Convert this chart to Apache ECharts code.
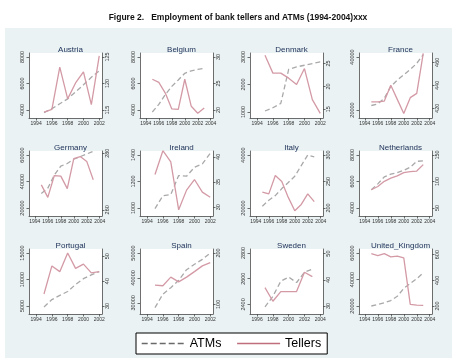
<!DOCTYPE html>
<html>
<head>
<meta charset="utf-8">
<script src="https://cdn.jsdelivr.net/npm/echarts@6/dist/echarts.min.js"></script>
<style>
  html, body { margin: 0; padding: 0; background: #ffffff; }
  #chart { width: 457px; height: 362px; }
</style>
</head>
<body>
<div id="chart"></div>
<script>
// ---- Data: ATMs (left axis) and bank tellers (right axis, thousands) ----
const countries = ['Austria', 'Belgium', 'Denmark', 'France', 'Germany', 'Ireland',
                   'Italy', 'Netherlands', 'Portugal', 'Spain', 'Sweden', 'United_Kingdom'];

const austriaYears   = [1995, 1996, 1997, 1998, 1999, 2000, 2001, 2002];
const austriaATMs    = [3800, 4100, 4470, 4840, 5360, 5900, 6470, 6960];
const austriaTellers = [114.6, 115.1, 123.1, 117.1, 120.1, 122.2, 116.0, 125.2];

const belgiumYears   = [1995, 1996, 1997, 1998, 1999, 2000, 2001, 2002, 2003];
const belgiumATMs    = [3850, 4420, 5160, 5780, 6270, 6770, 6960, 7060, 7140];
const belgiumTellers = [25.8, 25.2, 23.2, 20.2, 20.1, 25.8, 20.7, 19.4, 20.4];

const denmarkYears   = [1995, 1996, 1997, 1998, 1999, 2000, 2001, 2002];
const denmarkATMs    = [1036, 1155, 1310, 2550, 2640, 2700, 2760, 2820];
const denmarkTellers = [26.8, 22.9, 22.9, 21.8, 20.4, 23.9, 17.1, 14.1];

const franceYears    = [1995, 1996, 1997, 1998, 1999, 2000, 2001, 2002, 2003];
const franceATMs     = [21700, 22300, 24400, 28900, 31300, 33300, 35300, 37600, 40900];
const franceTellers  = [425.5, 425.5, 426.2, 440.0, 427.7, 415.4, 429.2, 432.9, 467.7];

const germanyYears   = [1995, 1996, 1997, 1998, 1999, 2000, 2001, 2002, 2003];
const germanyATMs    = [31000, 35000, 44800, 51600, 53600, 56800, 58800, 60800, 62800];
const germanyTellers = [268.8, 264.4, 272.1, 271.9, 267.5, 278.1, 278.8, 277.1, 270.6];

const irelandYears   = [1995, 1996, 1997, 1998, 1999, 2000, 2001, 2002];
const irelandATMs    = [995, 1093, 1101, 1245, 1240, 1307, 1333, 1413];
const irelandTellers = [36.5, 41.2, 39.0, 29.5, 33.4, 35.5, 33.0, 32.0];

const italyYears     = [1995, 1996, 1997, 1998, 1999, 2000, 2001, 2002, 2003];
const italyATMs      = [20670, 22930, 24670, 27330, 29600, 32000, 36000, 40000, 39300];
const italyTellers   = [230.0, 226.7, 261.3, 250.0, 220.0, 194.7, 206.7, 226.7, 212.0];

const netherlandsYears   = [1995, 1996, 1997, 1998, 1999, 2000, 2001, 2002, 2003];
const netherlandsATMs    = [5380, 5820, 6350, 6550, 6670, 6840, 7080, 7520, 7560];
const netherlandsTellers = [84.5, 90.6, 100.3, 106.4, 110.6, 116.7, 118.5, 119.7, 131.8];

const portugalYears   = [1995, 1996, 1997, 1998, 1999, 2000, 2001, 2002];
const portugalATMs    = [4820, 6210, 7000, 7730, 9060, 10150, 10880, 11480];
const portugalTellers = [34.8, 46.1, 43.8, 51.3, 45.1, 46.8, 43.3, 43.8];

const spainYears     = [1995, 1996, 1997, 1998, 1999, 2000, 2001, 2002];
const spainATMs      = [28060, 33480, 36060, 39030, 43290, 45480, 47420, 50000];
const spainTellers   = [137.5, 136.3, 153.1, 143.8, 153.1, 163.8, 175.0, 181.3];

const swedenYears    = [1997, 1998, 1999, 2000, 2001, 2002, 2003];
const swedenATMs     = [2380, 2463, 2580, 2613, 2570, 2650, 2675];
const swedenTellers  = [37.0, 31.8, 35.5, 35.5, 35.5, 42.9, 41.2];

const ukYears        = [1995, 1996, 1997, 1998, 1999, 2000, 2001, 2002, 2003];
const ukATMs         = [20000, 21200, 22400, 24100, 27300, 33300, 37000, 40600, 45000];
const ukTellers      = [607.5, 592.5, 607.5, 582.5, 587.5, 575.0, 212.5, 207.5, 205.0];

// ---- Tick labels ----
const xTicks94to02 = [1994, 1996, 1998, 2000, 2002];
const xTicks94to04 = [1994, 1996, 1998, 2000, 2002, 2004];
const xTicks96to04 = [1996, 1998, 2000, 2002, 2004];

const austriaLeftTicks = [4000, 6000, 8000];      const austriaRightTicks = [115, 120, 125];
const belgiumLeftTicks = [4000, 6000, 8000];      const belgiumRightTicks = [20, 25, 30];
const denmarkLeftTicks = [1000, 2000, 3000];      const denmarkRightTicks = [15, 20, 25];
const franceLeftTicks = [20000, 40000];           const franceRightTicks = [420, 440, 460];
const germanyLeftTicks = [20000, 40000, 60000];   const germanyRightTicks = [260, 280];
const irelandLeftTicks = [1000, 1200, 1400];      const irelandRightTicks = [30, 35, 40];
const italyLeftTicks = [20000, 40000];            const italyRightTicks = [200, 250, 300];
const netherlandsLeftTicks = [4000, 6000, 8000];  const netherlandsRightTicks = [50, 100, 150];
const portugalLeftTicks = [5000, 10000, 15000];   const portugalRightTicks = [30, 40, 50];
const spainLeftTicks = [30000, 40000, 50000];     const spainRightTicks = [100, 200];
const swedenLeftTicks = [2400, 2600, 2800];       const swedenRightTicks = [30, 40, 50];
const ukLeftTicks = [20000, 40000, 60000];        const ukRightTicks = [200, 400, 600];

const panels = [
  { years: austriaYears, atms: austriaATMs, tellers: austriaTellers, x: xTicks94to02, l: austriaLeftTicks, r: austriaRightTicks },
  { years: belgiumYears, atms: belgiumATMs, tellers: belgiumTellers, x: xTicks94to04, l: belgiumLeftTicks, r: belgiumRightTicks },
  { years: denmarkYears, atms: denmarkATMs, tellers: denmarkTellers, x: xTicks94to02, l: denmarkLeftTicks, r: denmarkRightTicks },
  { years: franceYears, atms: franceATMs, tellers: franceTellers, x: xTicks94to04, l: franceLeftTicks, r: franceRightTicks },
  { years: germanyYears, atms: germanyATMs, tellers: germanyTellers, x: xTicks94to04, l: germanyLeftTicks, r: germanyRightTicks },
  { years: irelandYears, atms: irelandATMs, tellers: irelandTellers, x: xTicks94to02, l: irelandLeftTicks, r: irelandRightTicks },
  { years: italyYears, atms: italyATMs, tellers: italyTellers, x: xTicks94to04, l: italyLeftTicks, r: italyRightTicks },
  { years: netherlandsYears, atms: netherlandsATMs, tellers: netherlandsTellers, x: xTicks94to04, l: netherlandsLeftTicks, r: netherlandsRightTicks },
  { years: portugalYears, atms: portugalATMs, tellers: portugalTellers, x: xTicks94to02, l: portugalLeftTicks, r: portugalRightTicks },
  { years: spainYears, atms: spainATMs, tellers: spainTellers, x: xTicks94to02, l: spainLeftTicks, r: spainRightTicks },
  { years: swedenYears, atms: swedenATMs, tellers: swedenTellers, x: xTicks96to04, l: swedenLeftTicks, r: swedenRightTicks },
  { years: ukYears, atms: ukATMs, tellers: ukTellers, x: xTicks94to04, l: ukLeftTicks, r: ukRightTicks }
];

// ---- Layout ----
const FONT = 'Liberation Sans, Arial, sans-serif';
const colLeft = [29, 140, 250, 359];
const rowTop = [53, 151, 249];
const PW = 73, PH = 65;
// offset (px from top of plot area) of the highest and lowest labelled tick
const DEFAULT_PLACE = [4, 57];
const tickPlace = {
  Denmark:        { l: [4, 59],   r: [10.5, 56.3] },
  France:         { r: [9.3, 55.2] },
  Germany:        { r: [2.2, 58.8] },
  Ireland:        { r: [5.8, 56.3] },
  Portugal:       { r: [7.2, 57] },
  Spain:          { l: [4, 53.8], r: [4, 55.4] },
  Sweden:         { l: [4, 55.4], r: [4.6, 57] },
  United_Kingdom: { r: [5.6, 57] }
};

function axisRange(ticks, place) {
  const hi = Math.max(...ticks), lo = Math.min(...ticks);
  const perPx = (hi - lo) / (place[1] - place[0]);
  return { min: lo - (PH - place[1]) * perPx, max: hi + place[0] * perPx };
}

const plain = v => String(v);
const axisColor = '#4a4a4a';
const labelColor = '#333333';
const ATM_COLOR = '#a9a9a9';
const TELLER_COLOR = '#d39aa6';

const grids = [], xAxes = [], yAxes = [], series = [], titles = [];

titles.push({
  text: 'Figure 2.   Employment of bank tellers and ATMs (1994-2004)xxx',
  left: 233, top: 8, textAlign: 'center',
  textStyle: { fontFamily: FONT, fontSize: 8.5, fontWeight: 'bold', color: '#111' }
});

panels.forEach((p, i) => {
  const name = countries[i];
  const c = i % 4, r = Math.floor(i / 4);
  const left = colLeft[c], top = rowTop[r];
  grids.push({
    left: left, top: top, width: PW, height: PH,
    show: true, backgroundColor: '#ffffff', borderWidth: 0,
    containLabel: false, outerBoundsMode: 'none'
  });
  titles.push({
    text: name, left: left + PW / 2, top: top - 12, textAlign: 'center',
    textStyle: { fontFamily: FONT, fontSize: 8, fontWeight: 'normal', color: '#22355c' }
  });

  const place = tickPlace[name] || {};
  const lr = axisRange(p.l, place.l || DEFAULT_PLACE);
  const rr = axisRange(p.r, place.r || DEFAULT_PLACE);

  xAxes.push({
    gridIndex: i, type: 'value',
    min: p.x[0] - 0.9, max: p.x[p.x.length - 1] + 0.35,
    axisLine: { show: true, onZero: false, lineStyle: { color: axisColor, width: 0.8 } },
    axisTick: { show: true, length: 2.5, customValues: p.x, lineStyle: { color: axisColor, width: 0.8 } },
    axisLabel: { customValues: p.x, formatter: plain, fontSize: 5, color: labelColor, margin: 3.5, fontFamily: FONT },
    splitLine: { show: false }
  });
  const yCommon = (ticks, rng, pos) => ({
    gridIndex: i, type: 'value', position: pos,
    min: rng.min, max: rng.max,
    axisLine: { show: true, onZero: false, lineStyle: { color: axisColor, width: 0.8 } },
    axisTick: { show: true, length: 2.5, customValues: ticks, lineStyle: { color: axisColor, width: 0.8 } },
    axisLabel: { customValues: ticks, formatter: plain, rotate: 90, fontSize: 5.5,
                 color: labelColor, margin: pos === 'left' ? 4 : 2.5, fontFamily: FONT },
    splitLine: { show: false }
  });
  yAxes.push(yCommon(p.l, lr, 'left'));
  yAxes.push(yCommon(p.r, rr, 'right'));

  series.push({
    type: 'line', name: 'ATMs', xAxisIndex: i, yAxisIndex: 2 * i,
    data: p.years.map((y, k) => [y, p.atms[k]]),
    symbol: 'none', silent: true, animation: false,
    itemStyle: { color: ATM_COLOR },
    lineStyle: { color: ATM_COLOR, width: 1.3, type: [5, 3] }
  });
  series.push({
    type: 'line', name: 'Tellers', xAxisIndex: i, yAxisIndex: 2 * i + 1,
    data: p.years.map((y, k) => [y, p.tellers[k]]),
    symbol: 'none', silent: true, animation: false,
    itemStyle: { color: TELLER_COLOR },
    lineStyle: { color: TELLER_COLOR, width: 1.3 }
  });
});

const chart = echarts.init(document.getElementById('chart'), null, { renderer: 'canvas' });
chart.setOption({
  animation: false,
  backgroundColor: '#ffffff',
  graphic: [{
    type: 'rect', z: -100, silent: true,
    shape: { x: 5, y: 28, width: 447, height: 330 },
    style: { fill: '#eaf2f3' }
  }],
  title: titles,
  grid: grids,
  xAxis: xAxes,
  yAxis: yAxes,
  legend: {
    data: [
      { name: 'ATMs', lineStyle: { color: '#6a6a6a', width: 1.4, type: [6, 3] }, itemStyle: { opacity: 0 } },
      { name: 'Tellers', lineStyle: { color: '#c06e7e', width: 1.4 }, itemStyle: { opacity: 0 } }
    ],
    left: 136, top: 333, orient: 'horizontal',
    itemWidth: 43, itemHeight: 10, itemGap: 15,
    padding: [4, 6, 4, 5],
    borderColor: '#000', borderWidth: 1, borderRadius: 0, backgroundColor: '#ffffff',
    selectedMode: false,
    textStyle: { fontFamily: FONT, fontSize: 12.5, color: '#000' }
  },
  series: series
});
</script>
</body>
</html>
